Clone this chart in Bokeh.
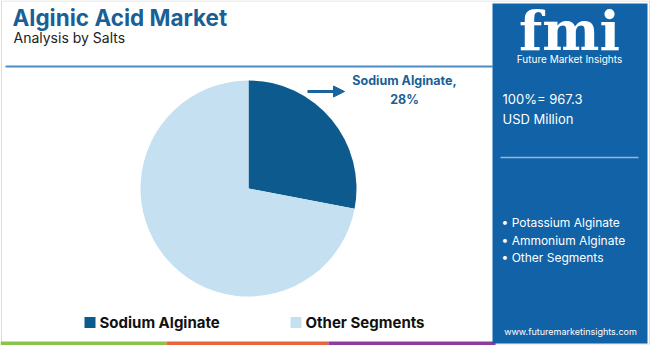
import math
from bokeh.plotting import figure
from bokeh.models import Range1d, ColumnDataSource, Arrow, NormalHead
from bokeh.core.properties import value
from bokeh.embed import file_html
from bokeh.resources import INLINE

# ---- data ----
title = "Alginic Acid Market"
subtitle = "Analysis by Salts"
categories = ["Sodium Alginate", "Other Segments"]
shares = [28, 72]
colors = ["#0d5a8e", "#c5e1f1"]
total_value = "967.3"
total_unit = "USD Million"
panel_segments = ["Potassium Alginate", "Ammonium Alginate", "Other Segments"]

W, H = 650, 345
FONT = "Inter"

def Y(py):
    return H - py

p = figure(width=W, height=H, x_range=Range1d(0, W), y_range=Range1d(0, H),
           output_backend="svg", toolbar_location=None, min_border=0)
p.axis.visible = False
p.grid.visible = False
p.outline_line_color = None
p.background_fill_color = "white"
p.border_fill_color = "white"

# outer light border
p.rect(x=[W / 2], y=[Y(172)], width=[W - 2], height=[H - 2], fill_color=None,
       line_color="#dddddd", line_width=1)

# bottom strip
p.quad(left=[0, 166, 328], right=[166, 328, 495], bottom=[0, 0, 0], top=[4, 4, 4],
       fill_color=["#8bc34a", "#e8643c", "#8e3a9e"], line_color=None)

# title
p.text(x=[12], y=[Y(17)], text=[title], text_font=value(FONT), text_font_style="bold",
       text_font_size="22.5px", text_color="#1a5f96", text_baseline="middle")
p.text(x=[13], y=[Y(37)], text=[subtitle], text_font=value(FONT),
       text_font_size="14px", text_color="#222222", text_baseline="middle")
p.segment(x0=[5], y0=[Y(66)], x1=[492], y1=[Y(66)], line_color="#4a8cc4", line_width=2)

# pie
cx, cy, r = 248, Y(188), 108
cum = 0.0
tot = float(sum(shares))
starts, ends = [], []
for s in shares:
    a_end = math.pi / 2 - 2 * math.pi * cum / tot
    cum += s
    a_start = math.pi / 2 - 2 * math.pi * cum / tot
    starts.append(a_start)
    ends.append(a_end)
src = ColumnDataSource(dict(start=starts, end=ends, color=colors, cat=categories))
p.wedge(x=cx, y=cy, radius=r, start_angle="start", end_angle="end",
        fill_color="color", line_color=None, source=src)

# label + arrow
p.add_layout(Arrow(end=NormalHead(size=11, fill_color="#1a64a0", line_color="#1a64a0"),
                   x_start=307, y_start=Y(91), x_end=344, y_end=Y(91),
                   line_color="#1a64a0", line_width=3))
p.text(x=[404], y=[Y(80)], text=[categories[0] + ","], text_font=value(FONT),
       text_font_style="bold", text_font_size="12.5px", text_color="#1a5f96",
       text_align="center", text_baseline="middle")
p.text(x=[404], y=[Y(99)], text=[f"{shares[0]}%"], text_font=value(FONT),
       text_font_style="bold", text_font_size="12.5px", text_color="#1a5f96",
       text_align="center", text_baseline="middle")

# legend
lx = [84, 290]
p.rect(x=[x + 5.5 for x in lx], y=[Y(322)] * 2, width=11, height=11,
       fill_color=colors, line_color=None)
p.text(x=[x + 15 for x in lx], y=[Y(322)] * 2, text=categories, text_font=value(FONT),
       text_font_style="bold", text_font_size="15px", text_color="#111111",
       text_baseline="middle")

# right panel
p.quad(left=[492], right=[647], bottom=[Y(343)], top=[Y(3)], fill_color="#1162a6",
       line_color=None)
p.text(x=[569], y=[Y(30)], text=["fmi"], text_font=value("DejaVu Serif"),
       text_font_style="bold", text_font_size="54px", text_color="white",
       text_align="center", text_baseline="middle")
p.text(x=[569], y=[Y(58)], text=["Future Market Insights"], text_font=value(FONT),
       text_font_size="10px", text_color="white", text_align="center",
       text_baseline="middle")
p.text(x=[502], y=[Y(98)], text=[f"100%= {total_value}"], text_font=value(FONT),
       text_font_size="13px", text_color="white", text_baseline="middle")
p.text(x=[502], y=[Y(118)], text=[total_unit], text_font=value(FONT),
       text_font_size="13px", text_color="white", text_baseline="middle")
p.segment(x0=[500], y0=[Y(157)], x1=[638], y1=[Y(157)], line_color="#8fb9e0", line_width=1.5)
p.text(x=[501] * 3, y=[Y(222), Y(240), Y(257)], text=["• " + s for s in panel_segments],
       text_font=value(FONT), text_font_size="12px", text_color="white",
       text_baseline="middle")
p.text(x=[570], y=[Y(331)], text=["www.futuremarketinsights.com"], text_font=value(FONT),
       text_font_size="9px", text_color="white", text_align="center",
       text_baseline="middle")

open("out.html", "w").write(file_html(p, INLINE))
